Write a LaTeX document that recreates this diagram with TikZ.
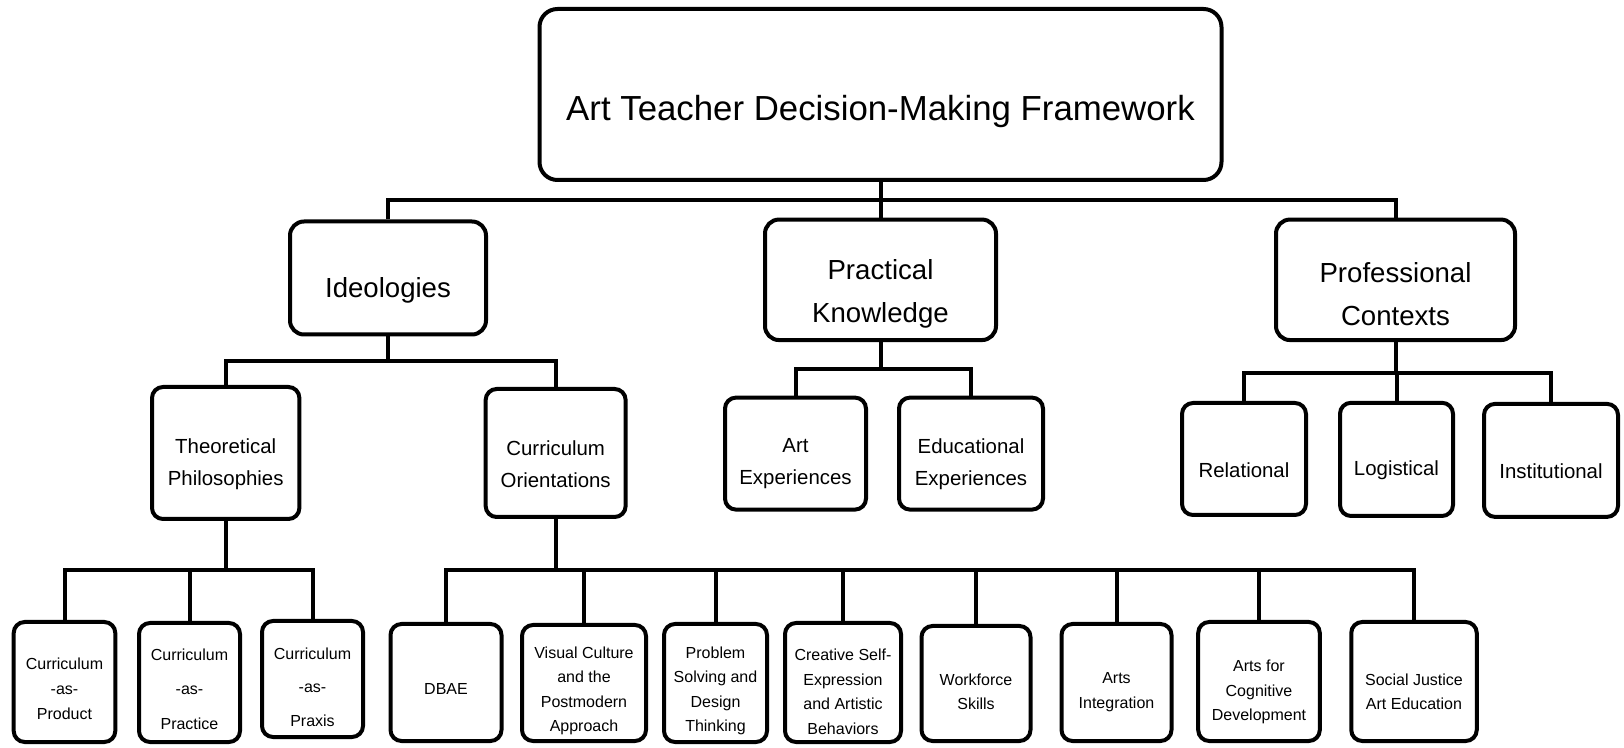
\documentclass[tikz,border=0pt]{standalone}
\usepackage{fontspec}
\setmainfont{Liberation Sans}
\begin{document}
\begin{tikzpicture}[x=0.5pt,y=-0.5pt,
  box/.style={draw=black, line width=2pt, rounded corners=5.5pt, inner sep=0pt, fill=white},
  bigbox/.style={box, rounded corners=9pt},
  midbox/.style={box, rounded corners=7pt},
  link/.style={draw=black, line width=2pt},
  t0/.style={align=center, inner sep=0pt, font=\fontsize{17.4}{21}\selectfont},
  t1/.style={align=center, inner sep=0pt, font=\fontsize{13.8}{21.75}\selectfont},
  t2/.style={align=center, inner sep=0pt, font=\fontsize{10.2}{16}\selectfont},
  t3/.style={align=center, inner sep=0pt, font=\fontsize{8}{12.25}\selectfont},
]
\useasboundingbox[fill=white] (0,0) rectangle (1624,748);

% ---------- boxes ----------
\node[bigbox, minimum width=341pt, minimum height=85.5pt] (root) at (880.5,94.5) {};

\node[midbox, minimum width=98pt,    minimum height=56.5pt]  (ideo) at (388,278) {};
\node[midbox, minimum width=115.5pt, minimum height=60.25pt] (prac) at (880.5,279.8) {};
\node[midbox, minimum width=119.5pt, minimum height=60.25pt] (prof) at (1395.5,279.8) {};

\node[box, minimum width=73.7pt, minimum height=66pt] (theo)    at (225.7,453) {};
\node[box, minimum width=70pt,   minimum height=64pt] (corient) at (555.65,453) {};
\node[box, minimum width=70.5pt, minimum height=56pt] (artexp)  at (795.5,453.6) {};
\node[box, minimum width=72pt,   minimum height=56pt] (eduexp)  at (971,453.6) {};
\node[box, minimum width=62pt,   minimum height=56pt] (relat)   at (1244,459) {};
\node[box, minimum width=56.5pt, minimum height=56.6pt] (logis) at (1396.5,459.4) {};
\node[box, minimum width=67pt,   minimum height=56.5pt] (instit) at (1551,460.4) {};

\node[box, minimum width=50.8pt, minimum height=60pt]   (product)  at (64.5,682) {};
\node[box, minimum width=50.5pt, minimum height=59.5pt] (practice) at (189.5,682.5) {};
\node[box, minimum width=50.5pt, minimum height=58pt]   (praxis)   at (312.5,679) {};

\node[box, minimum width=55.5pt, minimum height=58.5pt] (dbae)      at (446,682.5) {};
\node[box, minimum width=62pt,   minimum height=58pt]   (visual)    at (584,683) {};
\node[box, minimum width=51.5pt, minimum height=59pt]   (problem)   at (715.5,683) {};
\node[box, minimum width=58pt,   minimum height=59.5pt] (creative)  at (843,682.5) {};
\node[box, minimum width=54.5pt, minimum height=57.5pt] (workforce) at (976,683.5) {};
\node[box, minimum width=55pt,   minimum height=58.5pt] (artsint)   at (1116.5,682.5) {};
\node[box, minimum width=60.8pt, minimum height=59.5pt] (cognitive) at (1259,681.5) {};
\node[box, minimum width=62.75pt,minimum height=59.5pt] (social)    at (1414,681.5) {};

% ---------- labels ----------
\node[t0] (root-t) at (880.5,112) {Art Teacher Decision-Making Framework};

\node[t1] (ideo-t) at (388,290) {Ideologies};
\node[t1] (prac-t) at (880.5,294) {Practical\\Knowledge};
\node[t1] (prof-t) at (1395.5,294) {Professional\\Contexts};

\node[t2] (theo-t)    at (225.7,464) {Theoretical\\Philosophies};
\node[t2] (corient-t) at (555.7,464) {Curriculum\\Orientations};
\node[t2] (artexp-t)  at (795.5,464) {Art\\Experiences};
\node[t2] (eduexp-t)  at (971,464) {Educational\\Experiences};
\node[t2] (relat-t)   at (1244,470) {Relational};
\node[t2] (logis-t)   at (1396.5,470) {Logistical};
\node[t2] (instit-t)  at (1551,471) {Institutional};

\node[t3, font=\fontsize{8}{12.5}\selectfont]  (product-t)  at (64.5,689) {Curriculum\\-as-\\Product};
\node[t3, font=\fontsize{8}{17.25}\selectfont] (practice-t) at (189.5,689) {Curriculum\\-as-\\Practice};
\node[t3, font=\fontsize{8}{16.75}\selectfont] (praxis-t)   at (312.5,687) {Curriculum\\-as-\\Praxis};

\node[t3] (dbae-t)      at (446,689) {DBAE};
\node[t3] (visual-t)    at (584,691) {Visual Culture\\and the\\Postmodern\\Approach};
\node[t3] (problem-t)   at (715.5,691) {Problem\\Solving and\\Design\\Thinking};
\node[t3] (creative-t)  at (843,692) {Creative Self-\\Expression\\and Artistic\\Behaviors};
\node[t3] (workforce-t) at (976,692) {Workforce\\Skills};
\node[t3] (artsint-t)   at (1116.5,692) {Arts\\Integration};
\node[t3] (cognitive-t) at (1259,692) {Arts for\\Cognitive\\Development};
\node[t3] (social-t)    at (1414,692) {Social Justice\\Art Education};

% ---------- bus points ----------
\coordinate (rootbus)    at (880.5,200);
\coordinate (ideobus)    at (388,361);
\coordinate (pracbus)    at (880.5,369);
\coordinate (profbus)    at (1395.5,373);
\coordinate (theobus)    at (225.7,570);
\coordinate (corientbus) at (555.65,570);

% ---------- connectors ----------
\draw[link] (root.south) -- (rootbus);
\draw[link] (ideo.north) |- (rootbus) -| (prof.north);
\draw[link] (rootbus) -- (prac.north);

\draw[link] (ideo.south) -- (ideobus);
\draw[link] (theo.north) |- (ideobus) -| (corient.north);

\draw[link] (prac.south) -- (pracbus);
\draw[link] (artexp.north) |- (pracbus) -| (eduexp.north);

\draw[link] (prof.south) -- (profbus);
\draw[link] (relat.north) |- (profbus) -| (instit.north);
\draw[link] (logis.north) -- (logis.north |- profbus);

\draw[link] (theo.south) -- (theobus);
\draw[link] (product.north) |- (theobus) -| (praxis.north);
\draw[link] (practice.north) -- (practice.north |- theobus);

\draw[link] (corient.south) -- (corientbus);
\draw[link] (dbae.north) |- (corientbus) -| (social.north);
\draw[link] (visual.north)    -- (visual.north |- corientbus);
\draw[link] (problem.north)   -- (problem.north |- corientbus);
\draw[link] (creative.north)  -- (creative.north |- corientbus);
\draw[link] (workforce.north) -- (workforce.north |- corientbus);
\draw[link] (artsint.north)   -- (artsint.north |- corientbus);
\draw[link] (cognitive.north) -- (cognitive.north |- corientbus);
\end{tikzpicture}
\end{document}
